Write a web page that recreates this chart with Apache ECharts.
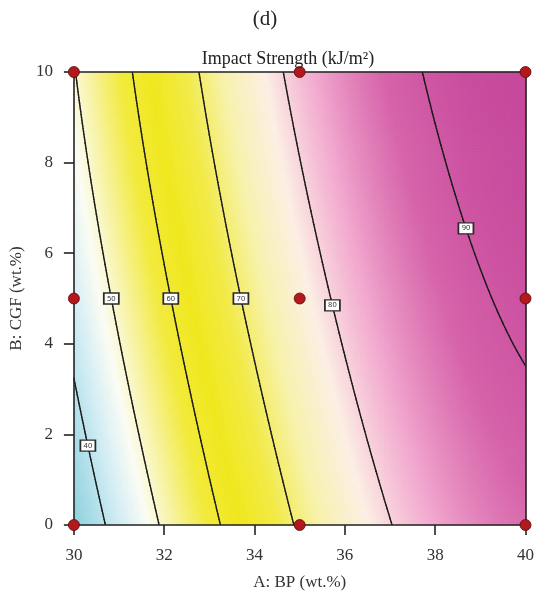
<!DOCTYPE html>
<html>
<head>
<meta charset="utf-8">
<script src="https://cdn.jsdelivr.net/npm/echarts@6/dist/echarts.min.js"></script>
<style>
  html, body { margin: 0; padding: 0; background: #fff; }
  #chart { width: 537px; height: 596px; }
</style>
</head>
<body>
<div id="chart"></div>
<script>
// Factor levels of the 3x3 design (A: BP, B: CGF), in wt.%
const bpLevels = [30, 35, 40];
const cgfLevels = [0, 5, 10];
// Predicted impact strength (kJ/m²) at the design points, one row per CGF level
const impactAtCGF0 = [33.6, 70.7, 87.4];
const impactAtCGF5 = [43.0, 76.9, 90.8];
const impactAtCGF10 = [49.7, 81.6, 92.2];
// Contour levels and the CGF value at which each level's tag is placed
const contourLevels = [40, 50, 60, 70, 80, 90];
const tagCGF = [1.75, 5.0, 5.0, 5.0, 4.85, 6.55];
// Axis ticks
const bpTicks = [30, 32, 34, 36, 38, 40];
const cgfTicks = [0, 2, 4, 6, 8, 10];

const impactRows = [impactAtCGF0, impactAtCGF5, impactAtCGF10];
const SERIF = '"Liberation Serif", "DejaVu Serif", serif';

// Quadratic (Lagrange) response surface through the design-point values
function lagrange(nodes, x) {
  return nodes.map((xi, i) =>
    nodes.reduce((p, xj, j) => (j === i ? p : p * (x - xj) / (xi - xj)), 1));
}
function impact(a, b) {
  const la = lagrange(bpLevels, a);
  const lb = lagrange(cgfLevels, b);
  let s = 0;
  for (let j = 0; j < 3; j++) {
    for (let i = 0; i < 3; i++) s += impactRows[j][i] * la[i] * lb[j];
  }
  return s;
}

const aMin = bpTicks[0], aMax = bpTicks[bpTicks.length - 1];
const bMin = cgfTicks[0], bMax = cgfTicks[cgfTicks.length - 1];

// Colour field cells
const N = 150;
const dA = (aMax - aMin) / N, dB = (bMax - bMin) / N;
const cells = [];
for (let j = 0; j < N; j++) {
  for (let i = 0; i < N; i++) {
    const a = aMin + (i + 0.5) * dA, b = bMin + (j + 0.5) * dB;
    cells.push([a, b, impact(a, b)]);
  }
}

// Contour segments by marching squares
const M = 160;
const gA = (aMax - aMin) / M, gB = (bMax - bMin) / M;
const nodeVal = [];
for (let j = 0; j <= M; j++) {
  const row = [];
  for (let i = 0; i <= M; i++) row.push(impact(aMin + i * gA, bMin + j * gB));
  nodeVal.push(row);
}
const segments = [];
contourLevels.forEach(level => {
  for (let j = 0; j < M; j++) {
    for (let i = 0; i < M; i++) {
      const c = [
        [aMin + i * gA, bMin + j * gB, nodeVal[j][i]],
        [aMin + (i + 1) * gA, bMin + j * gB, nodeVal[j][i + 1]],
        [aMin + (i + 1) * gA, bMin + (j + 1) * gB, nodeVal[j + 1][i + 1]],
        [aMin + i * gA, bMin + (j + 1) * gB, nodeVal[j + 1][i]]
      ];
      const pts = [];
      for (let e = 0; e < 4; e++) {
        const p = c[e], q = c[(e + 1) % 4];
        if ((p[2] < level) !== (q[2] < level)) {
          const t = (level - p[2]) / (q[2] - p[2]);
          pts.push([p[0] + t * (q[0] - p[0]), p[1] + t * (q[1] - p[1])]);
        }
      }
      for (let k = 0; k + 1 < pts.length; k += 2) {
        segments.push([pts[k][0], pts[k][1], pts[k + 1][0], pts[k + 1][1], level]);
      }
    }
  }
});

// Tag positions: BP where the level is reached at the tag's CGF value
function solveBP(level, b) {
  let lo = aMin, hi = aMax;
  for (let k = 0; k < 60; k++) {
    const mid = (lo + hi) / 2;
    if (impact(mid, b) < level) lo = mid; else hi = mid;
  }
  return (lo + hi) / 2;
}
const tags = contourLevels.map((lv, k) => [solveBP(lv, tagCGF[k]), tagCGF[k], lv]);

const designPoints = [];
cgfLevels.forEach(b => bpLevels.forEach(a => designPoints.push([a, b])));

const chart = echarts.init(document.getElementById('chart'), null, { renderer: 'canvas' });

const axisLineStyle = { color: '#222', width: 1.6 };
const labelStyle = { fontFamily: SERIF, fontSize: 17, color: '#333' };

chart.setOption({
  animation: false,
  backgroundColor: '#fff',
  grid: { left: 71, right: 8, top: 72, bottom: 69 },
  graphic: [
    {
      type: 'text', x: 265, y: 19, z: 50,
      style: { text: '(d)', font: '21px ' + SERIF, fill: '#222',
               align: 'center', verticalAlign: 'middle',
               textAlign: 'center', textVerticalAlign: 'middle' }
    },
    {
      type: 'text', x: 288, y: 59, z: 50,
      style: { text: 'Impact Strength (kJ/m²)', font: '18px ' + SERIF, fill: '#222',
               align: 'center', verticalAlign: 'middle',
               textAlign: 'center', textVerticalAlign: 'middle' }
    }
  ],
  visualMap: {
    show: false,
    type: 'continuous',
    seriesIndex: 0,
    dimension: 2,
    min: 33,
    max: 93,
    inRange: {
      color: ['#88cfdb', '#abdde8', '#d3edf4', '#fbfcf4', '#f7f29c', '#f2ea3c', '#f0e81e',
              '#f2ea46', '#f7f2aa', '#fcefe4', '#f2a9cf', '#d664aa', '#c4449a']
    }
  },
  xAxis: [
    {
      type: 'value', min: aMin, max: aMax, interval: 2, z: 10,
      axisLine: { show: true, onZero: false, lineStyle: axisLineStyle },
      axisTick: { show: true, length: 10, lineStyle: axisLineStyle },
      axisLabel: Object.assign({ margin: 22 }, labelStyle),
      splitLine: { show: false },
      name: 'A: BP (wt.%)', nameLocation: 'middle', nameGap: 49,
      nameTextStyle: labelStyle
    },
    {
      type: 'value', position: 'top', min: aMin, max: aMax, z: 10,
      axisLine: { show: true, onZero: false, lineStyle: axisLineStyle },
      axisTick: { show: false }, axisLabel: { show: false }, splitLine: { show: false }
    }
  ],
  yAxis: [
    {
      type: 'value', min: bMin, max: bMax, interval: 2, z: 10,
      axisLine: { show: true, onZero: false, lineStyle: axisLineStyle },
      axisTick: { show: true, length: 10, lineStyle: axisLineStyle },
      axisLabel: Object.assign({ margin: 21 }, labelStyle),
      splitLine: { show: false },
      name: 'B: CGF (wt.%)', nameLocation: 'middle', nameGap: 42,
      nameTextStyle: labelStyle
    },
    {
      type: 'value', position: 'right', min: bMin, max: bMax, z: 10,
      axisLine: { show: true, onZero: false, lineStyle: axisLineStyle },
      axisTick: { show: false }, axisLabel: { show: false }, splitLine: { show: false }
    }
  ],
  series: [
    {
      type: 'custom',
      name: 'Impact Strength',
      clip: true,
      z: 1,
      silent: true,
      data: cells,
      renderItem(params, api) {
        const a = api.value(0), b = api.value(1);
        const p0 = api.coord([a - dA / 2, b + dB / 2]);
        const p1 = api.coord([a + dA / 2, b - dB / 2]);
        return {
          type: 'rect',
          shape: { x: p0[0], y: p0[1] - 0.35, width: p1[0] - p0[0] + 0.7, height: p1[1] - p0[1] + 0.7 },
          style: { fill: api.visual('color') }
        };
      }
    },
    {
      type: 'custom',
      name: 'Contours',
      clip: true,
      z: 3,
      silent: true,
      data: segments,
      renderItem(params, api) {
        const p = api.coord([api.value(0), api.value(1)]);
        const q = api.coord([api.value(2), api.value(3)]);
        return {
          type: 'line',
          shape: { x1: p[0], y1: p[1], x2: q[0], y2: q[1] },
          style: { stroke: '#1c1c1c', lineWidth: 1.4, lineCap: 'round' }
        };
      }
    },
    {
      type: 'scatter',
      name: 'Tags',
      z: 5,
      symbol: 'rect',
      symbolSize: [15, 11],
      data: tags,
      itemStyle: { color: '#fff', borderColor: '#2a2a2a', borderWidth: 1.5, opacity: 1 },
      label: {
        show: true, position: 'inside',
        formatter: p => String(p.value[2]),
        fontFamily: 'Noto Sans, sans-serif', fontSize: 7.5, color: '#333'
      }
    },
    {
      type: 'scatter',
      name: 'Design points',
      z: 20,
      clip: false,
      symbol: 'circle',
      symbolSize: 11,
      data: designPoints,
      itemStyle: { color: '#b3181c', borderColor: '#5a0a0a', borderWidth: 0.8, opacity: 1 }
    }
  ]
});
</script>
</body>
</html>
